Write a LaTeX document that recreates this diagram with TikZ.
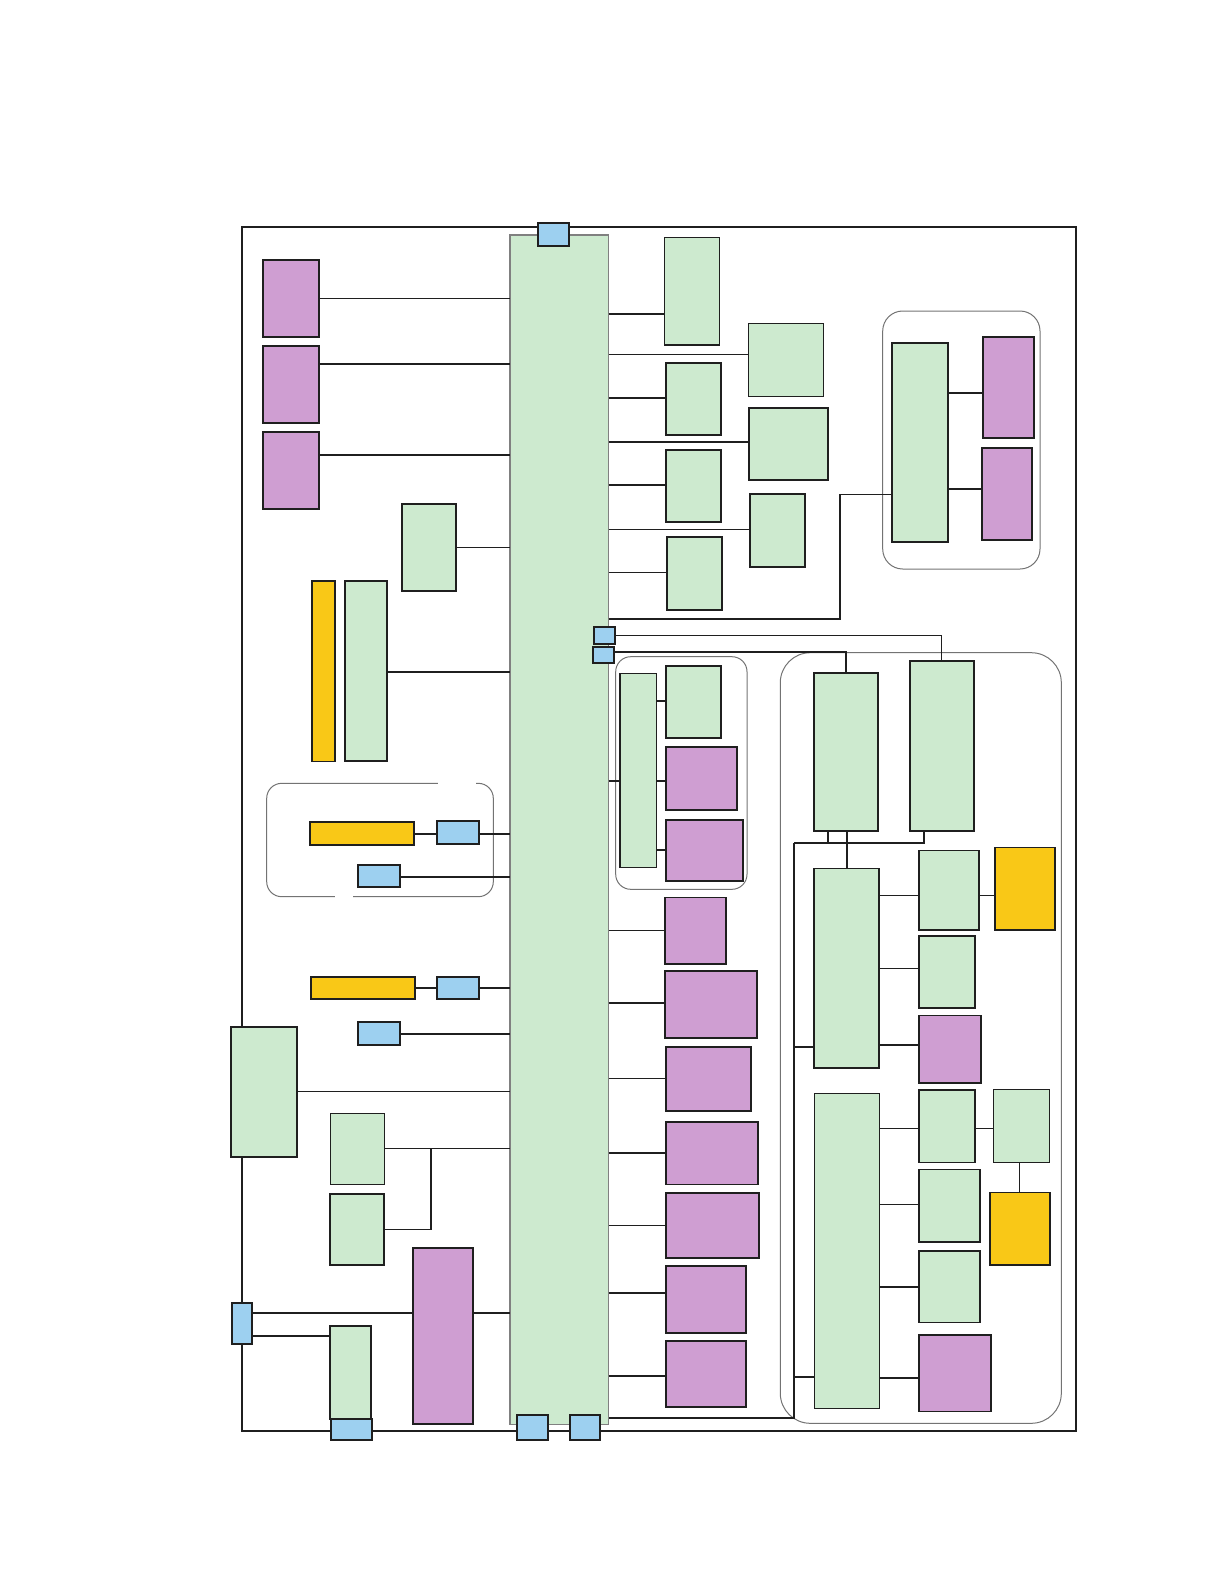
\documentclass[tikz,border=0pt]{standalone}
\usepackage{tikz}
\usetikzlibrary{positioning,calc}

\definecolor{boxgreen}{HTML}{CDEACF}
\definecolor{boxpurple}{HTML}{CF9ED2}
\definecolor{boxyellow}{HTML}{F9C817}
\definecolor{boxblue}{HTML}{9DD0F0}

\begin{document}
\begin{tikzpicture}[
  x=1pt, y=-1pt,
  blk/.style={draw=black!88, line width=1.7pt, inner sep=0pt, outer sep=0pt},
  sz/.style 2 args={minimum width=#1pt, minimum height=#2pt},
  grn/.style={blk, fill=boxgreen},
  prp/.style={blk, fill=boxpurple},
  ylw/.style={blk, fill=boxyellow},
  blu/.style={blk, fill=boxblue},
  bus/.style={draw=black!50, line width=1.4pt, fill=boxgreen, inner sep=0pt, outer sep=0pt},
  grp/.style={draw=black!55, line width=1pt},
  frame/.style={draw=black!88, line width=2pt},
  link/.style={draw=black!88, line width=1.7pt},
  thin link/.style={draw=black!88, line width=1pt}
]
\useasboundingbox (0,0) rectangle (1224,1584);

\draw[frame] (241.7,226.7) rectangle (1075.7,1430.7);

% groups
\draw[grp, rounded corners=20pt] (882.7,311) rectangle (1040,569);
\draw[grp, rounded corners=15pt] (615.7,656.7) rectangle (747,889.3);
\draw[grp, rounded corners=30pt] (780.3,652.7) rectangle (1061.3,1423.3);
\draw[grp, rounded corners=15pt] (266.7,783.3) rectangle (493.3,896.7);
\draw[white, line width=2.5pt] (438,783.3) -- (476,783.3) (335,896.7) -- (353,896.7);

% main column
\node[bus, sz={98.5}{1189.3}] (bus) at (559.25,829.65) {};
\node[blu, sz={31}{23.3}] (top) at (553.8,234.35) {};
\node[blu, sz={31}{24.7}] (k7) at (532.8,1427.65) {};
\node[blu, sz={30.6}{24.7}] (k8) at (585,1427.65) {};

% left side
\node[prp, sz={56.6}{77}] (p1) at (291,298.5) {};
\node[prp, sz={56.6}{77}] (p2) at (291,384.2) {};
\node[prp, sz={56.6}{77}] (p3) at (291,470.8) {};
\node[grn, sz={54.6}{87.3}] (g1) at (429,547.35) {};
\node[ylw, sz={23.6}{180.8}] (y1) at (323.5,671.1) {};
\node[grn, sz={42.3}{180.3}] (g2) at (365.85,670.85) {};
\node[ylw, sz={103.7}{23}] (y3) at (361.85,833.8) {};
\node[blu, sz={42}{23}] (k1) at (458.3,832.8) {};
\node[blu, sz={41.4}{22.6}] (k2) at (379,876) {};
\node[ylw, sz={104.6}{22.6}] (y4) at (363,988) {};
\node[blu, sz={42}{22.6}] (k3) at (458.3,988) {};
\node[blu, sz={41.4}{23}] (k4) at (379,1033.8) {};
\node[grn, sz={66}{130.3}] (l1) at (264.3,1091.85) {};
\node[grn, sz={54}{71}, line width=1.1pt] (m1) at (357.3,1148.8) {};
\node[grn, sz={54}{71}] (m2) at (357.3,1229.5) {};
\node[prp, sz={60}{176.3}] (n1) at (443.3,1335.85) {};
\node[blu, sz={20}{41.3}] (k5) at (242.3,1323.35) {};
\node[grn, sz={40.4}{93.3}] (o1) at (350.5,1372.35) {};
\node[blu, sz={40.7}{21}] (k6) at (351.35,1429.5) {};

\draw[thin link] (p1.east) -- (p1.east -| bus.west);
\draw[link] (p2.east |- 0,364) -- (bus.west |- 0,364);
\draw[link] (p3.east |- 0,455) -- (bus.west |- 0,455);
\draw[link] (g1.east) -- (g1.east -| bus.west);
\draw[link] (g2.east |- 0,672) -- (bus.west |- 0,672);
\draw[link] (y3.east) -- (k1.west |- y3.east);
\draw[link] (k1.east |- 0,833.7) -- (bus.west |- 0,833.7);
\draw[link] (k2.east |- 0,876.7) -- (bus.west |- 0,876.7);
\draw[link] (y4.east) -- (k3.west);
\draw[link] (k3.east) -- (k3.east -| bus.west);
\draw[link] (k4.east) -- (k4.east -| bus.west);
\draw[thin link] (l1.east) -- (l1.east -| bus.west);
\draw[thin link] (m1.east) -- (m1.east -| bus.west);
\coordinate (mj) at (430.7,1148.8);
\draw[link] (m2.east) -| (mj);
\draw[link] (n1.east |- 0,1313) -- (bus.west |- 0,1313);
\draw[link] (k5.east |- 0,1313) -- (n1.west |- 0,1313);
\draw[link] (k5.east |- 0,1336) -- (o1.west |- 0,1336);

% right side, upper
\node[grn, sz={55}{107.3}, line width=1.1pt] (a1) at (691.8,291.35) {};
\node[grn, sz={55.3}{72.3}] (a2) at (693.35,398.85) {};
\node[grn, sz={55.3}{72.6}] (a3) at (693.35,486) {};
\node[grn, sz={55.6}{72.7}] (a4) at (694.5,573.65) {};
\node[grn, sz={74.6}{72.6}, line width=1.1pt] (b1) at (786,360) {};
\node[grn, sz={79.6}{72.6}] (b2) at (788.5,444) {};
\node[grn, sz={55.6}{72.7}] (b3) at (777.5,530.65) {};
\node[grn, sz={56.6}{199.3}] (c1) at (920,442.35) {};
\node[prp, sz={51}{101}] (q1) at (1008.8,387.8) {};
\node[prp, sz={50.6}{92}] (q2) at (1007,494) {};

\draw[link] (bus.east |- 0,313.7) -- (a1.west |- 0,313.7);
\draw[thin link] (bus.east |- 0,354.3) -- (b1.west |- 0,354.3);
\draw[link] (bus.east |- 0,398) -- (a2.west |- 0,398);
\draw[link] (bus.east |- 0,441.7) -- (b2.west |- 0,441.7);
\draw[link] (bus.east |- 0,485) -- (a3.west |- 0,485);
\draw[thin link] (bus.east |- 0,529.3) -- (b3.west |- 0,529.3);
\draw[thin link] (bus.east |- 0,572.3) -- (a4.west |- 0,572.3);
\draw[link] (bus.east |- 0,619) -| (839.7,494);
\draw[thin link] (839.7,494) -- (c1.west |- 0,494);
\draw[link] (c1.east |- 0,392.7) -- (q1.west |- 0,392.7);
\draw[link] (c1.east |- 0,489.3) -- (q2.west |- 0,489.3);

% right side, middle
\node[blu, sz={21}{17}] (s1) at (604.8,635.2) {};
\node[blu, sz={21}{16.6}] (s2) at (603.8,655) {};
\node[grn, sz={36.7}{193.6}, line width=1.1pt] (e0) at (638.35,770.5) {};
\node[grn, sz={55.6}{72}] (e1) at (693.5,701.7) {};
\node[prp, sz={71.6}{62.7}] (e2) at (701.5,778.65) {};
\node[prp, sz={77.6}{61.6}] (e3) at (704.5,850.5) {};
\node[grn, sz={64.3}{158}] (d1) at (845.85,751.7) {};
\node[grn, sz={64.3}{170}] (d2) at (941.85,745.7) {};

\draw[thin link] (s1.east |- 0,635) -| (d2.north);
\draw[link] (s2.east |- 0,651.7) -| (d1.north);
\draw[link] (bus.east |- 0,781) -- (e0.west |- 0,781);
\draw[link] (e0.east |- 0,700.7) -- (e1.west |- 0,700.7);
\draw[link] (e0.east |- 0,781) -- (e2.west |- 0,781);
\draw[link] (e0.east |- 0,849.7) -- (e3.west |- 0,849.7);

% purple column
\node[prp, sz={61.6}{66.1}] (j1) at (695.5,930.65) {};
\node[prp, sz={92.6}{67.1}] (j2) at (711,1004.45) {};
\node[prp, sz={85.6}{64.3}] (j3) at (708.5,1078.85) {};
\node[prp, sz={92.6}{62.7}] (j4) at (712,1153.05) {};
\node[prp, sz={93.6}{65.4}] (j5) at (712.5,1225.4) {};
\node[prp, sz={80.6}{67.1}] (j6) at (706,1299.25) {};
\node[prp, sz={80.6}{66.2}] (j7) at (706,1373.8) {};

\draw[thin link] (bus.east |- 0,930.3) -- (j1.west |- 0,930.3);
\draw[link] (bus.east |- 0,1003.3) -- (j2.west |- 0,1003.3);
\draw[thin link] (bus.east |- 0,1078.7) -- (j3.west |- 0,1078.7);
\draw[link] (bus.east |- 0,1152.7) -- (j4.west |- 0,1152.7);
\draw[thin link] (bus.east |- 0,1225) -- (j5.west |- 0,1225);
\draw[link] (bus.east |- 0,1293.2) -- (j6.west |- 0,1293.2);
\draw[link] (bus.east |- 0,1375.9) -- (j7.west |- 0,1375.9);

% right side, lower group
\node[grn, sz={65}{199.4}] (f1) at (846.8,968.3) {};
\node[grn, sz={65}{314.6}, line width=1.1pt] (f2) at (846.8,1250.9) {};
\node[grn, sz={60.6}{79.6}] (r1) at (949,890.4) {};
\node[ylw, sz={60.6}{82.6}] (y5) at (1025,888.9) {};
\node[grn, sz={55.7}{72.3}] (r2) at (947.15,972.15) {};
\node[prp, sz={62}{67.8}] (r3) at (950.3,1049.4) {};
\node[grn, sz={55.7}{72.7}] (h1) at (947.15,1126.15) {};
\node[grn, sz={55.6}{72.7}, line width=1.1pt] (i1) at (1021.5,1126.15) {};
\node[ylw, sz={59.7}{72.7}] (y6) at (1020.15,1228.75) {};
\node[grn, sz={61}{72.3}] (h2) at (949.8,1205.55) {};
\node[grn, sz={61}{71.6}] (h3) at (949.8,1286.7) {};
\node[prp, sz={72}{76.9}] (h4) at (955.3,1373.15) {};

\coordinate (hub) at (793.7,842.7);
\draw[link] (d2.south -| 923.7,0) |- (hub);
\draw[link] (d1.south -| 828,0) -- (828,842.7);
\draw[link] (d1.south -| f1.north) -- (f1.north);
\draw[link] (hub) |- (bus.east |- 0,1418);
\draw[link] (793.7,1047) -- (f1.west |- 0,1047);
\draw[link] (793.7,1376.8) -- (f2.west |- 0,1376.8);
\draw[thin link] (f1.east |- 0,895.4) -- (r1.west |- 0,895.4);
\draw[thin link] (r1.east |- 0,895.4) -- (y5.west |- 0,895.4);
\draw[link] (f1.east |- 0,968.5) -- (r2.west |- 0,968.5);
\draw[link] (f1.east |- 0,1045) -- (r3.west |- 0,1045);
\draw[link] (f2.east |- 0,1128.4) -- (h1.west |- 0,1128.4);
\draw[link] (h1.east |- 0,1128.4) -- (i1.west |- 0,1128.4);
\draw[thin link] (i1.south -| 1019.3,0) -- (y6.north -| 1019.3,0);
\draw[thin link] (f2.east |- 0,1204.2) -- (h2.west |- 0,1204.2);
\draw[link] (f2.east |- 0,1286.9) -- (h3.west |- 0,1286.9);
\draw[link] (f2.east |- 0,1378) -- (h4.west |- 0,1378);
\end{tikzpicture}
\end{document}
